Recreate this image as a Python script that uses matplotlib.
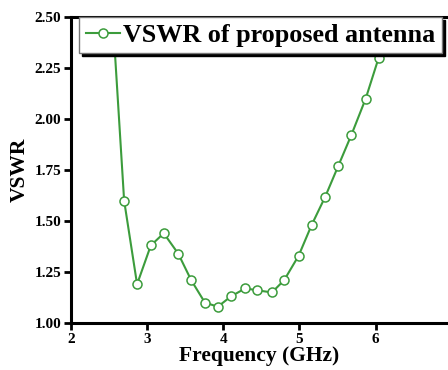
import matplotlib.pyplot as plt

# VSWR samples of the antenna (frequency in GHz)
freq = [2.53, 2.70, 2.87, 3.05, 3.22, 3.41, 3.58, 3.76, 3.93, 4.10, 4.29,
        4.45, 4.64, 4.80, 4.99, 5.16, 5.34, 5.51, 5.68, 5.87, 6.04]
vswr = [2.62, 1.60, 1.19, 1.38, 1.44, 1.34, 1.21, 1.10, 1.08, 1.13, 1.17,
        1.16, 1.15, 1.21, 1.33, 1.48, 1.62, 1.77, 1.92, 2.10, 2.30]

xticks = [2, 3, 4, 5, 6]
yticks = [1.00, 1.25, 1.50, 1.75, 2.00, 2.25, 2.50]

plt.rcParams['font.family'] = ['Liberation Serif', 'DejaVu Serif']
plt.rcParams['font.weight'] = 'bold'

fig = plt.figure(figsize=(4.48, 3.70), dpi=100)
ax = fig.add_axes([0.158, 0.127, 0.842, 0.827])

ax.plot(freq, vswr, color='#3c9c3c', lw=1.5, marker='o', ms=6.5,
        mfc='white', mec='#3c9c3c', mew=1.1,
        label='VSWR of proposed antenna')

ax.set_xlim(2, 6.95)
ax.set_ylim(1.0, 2.5)
ax.set_xticks(xticks)
ax.set_yticks(yticks)
ax.set_yticklabels(['%.2f' % v for v in yticks])

for s in ax.spines.values():
    s.set_linewidth(2.2)
ax.spines['right'].set_visible(False)
ax.tick_params(direction='out', length=5, width=2, labelsize=11, pad=2)
for lab in ax.get_xticklabels() + ax.get_yticklabels():
    lab.set_fontweight('bold')

ax.set_xlabel('Frequency (GHz)', fontsize=15.5, fontweight='bold', labelpad=0)
ax.set_ylabel('VSWR', fontsize=15.5, fontweight='bold', labelpad=3)

# boxed legend with a solid black drop shadow
leg = ax.legend(loc='upper left', bbox_to_anchor=(0.022, 1.0),
                borderaxespad=0, fancybox=False,
                shadow={'color': 'black', 'alpha': 1},
                handlelength=1.3, handletextpad=0.15, borderpad=0.25,
                prop={'weight': 'bold', 'size': 18.8})
leg.get_frame().set_edgecolor('#777777')
leg.get_frame().set_linewidth(1.0)

fig.savefig('out.png', dpi=100)
